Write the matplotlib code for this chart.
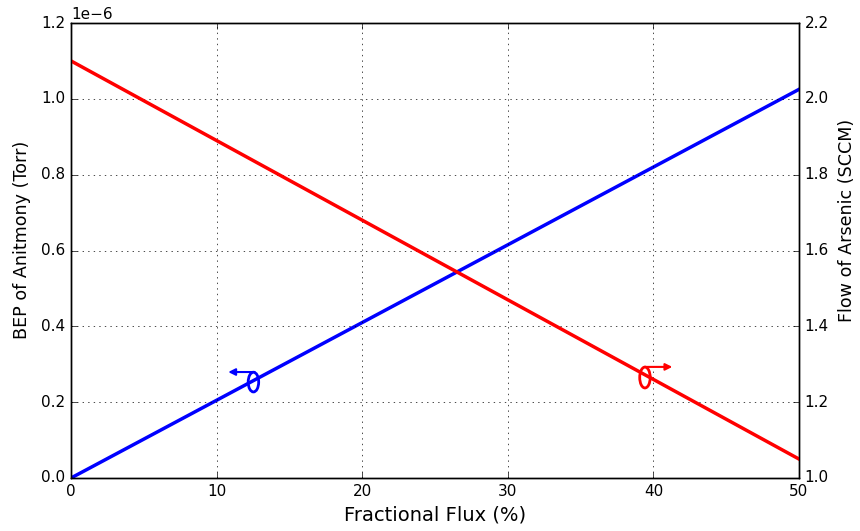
import matplotlib
matplotlib.use("Agg")
import matplotlib.pyplot as plt
from matplotlib.patches import Ellipse
from matplotlib.ticker import ScalarFormatter

plt.style.use('classic')
plt.rcParams['font.family'] = ['DejaVu Sans']
plt.rcParams['xtick.labelsize'] = 11
plt.rcParams['ytick.labelsize'] = 11

flux = [0, 50]
bep_sb = [0.0, 1.025e-6]
flow_as = [2.1, 1.05]

fig = plt.figure(figsize=(8.6, 5.31), dpi=100, facecolor='white')
ax = fig.add_axes([71/860, 1-478/531, 728/860, 455/531])
ax.set_facecolor('white')
ax.plot(flux, bep_sb, color='blue', lw=2.5)
ax.set_xlim(0, 50)
ax.set_ylim(0, 1.2e-6)
fmt = ScalarFormatter(useMathText=False)
fmt.set_powerlimits((0, 0))
ax.yaxis.set_major_formatter(fmt)
ax.yaxis.get_offset_text().set_fontsize(11)
ax.set_xlabel('Fractional Flux (%)', fontsize=14)
ax.set_ylabel('BEP of Anitmony (Torr)', fontsize=12.6)
ax.yaxis.set_label_coords(-0.055, 0.523)
ax.grid(True)
ax.add_patch(Ellipse((12.53, 0.253e-6), 0.72, 0.052e-6, fill=False,
                     edgecolor='blue', lw=2))
ax.annotate('', xy=(10.8, 0.2795e-6), xytext=(12.6, 0.2795e-6),
            arrowprops=dict(arrowstyle='-|>', color='blue', lw=1.5,
                            mutation_scale=10, shrinkA=0, shrinkB=0))

ax2 = ax.twinx()
ax2.plot(flux, flow_as, color='red', lw=2.5)
ax2.set_ylim(1.0, 2.2)
ax2.set_xlim(0, 50)
ax2.set_ylabel('Flow of Arsenic (SCCM)', fontsize=12.6)
ax2.yaxis.set_label_coords(1.054, 0.567)
ax2.add_patch(Ellipse((39.42, 1.265), 0.72, 0.055, fill=False,
                      edgecolor='red', lw=2))
ax2.annotate('', xy=(41.3, 1.293), xytext=(39.4, 1.293),
             arrowprops=dict(arrowstyle='-|>', color='red', lw=1.5,
                             mutation_scale=10, shrinkA=0, shrinkB=0))

fig.savefig('out.png', dpi=100, facecolor='white')
